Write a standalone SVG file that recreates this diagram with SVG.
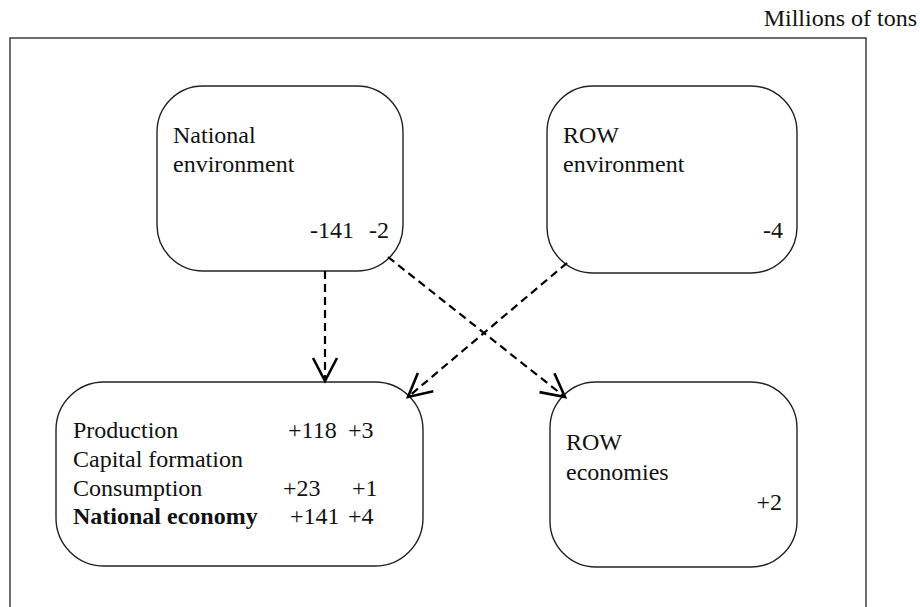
<svg xmlns="http://www.w3.org/2000/svg" width="920" height="607" viewBox="0 0 920 607">
  <style>
    .frame { fill: none; stroke: #222; stroke-width: 1.3; }
    .box { fill: #fff; stroke: #222; stroke-width: 1.4; }
    .t { font-family: "Liberation Serif", "Times New Roman", serif; font-size: 24px; fill: #111; }
    .b { font-weight: bold; }
    .flow { fill: none; stroke: #000; stroke-width: 2.2; stroke-dasharray: 8 5; }
  </style>
  <defs>
    <marker id="open-arrow" markerUnits="userSpaceOnUse" markerWidth="30" markerHeight="30" viewBox="-26 -15 30 30" refX="0" refY="0" orient="auto">
      <path d="M -23 -12 L 0 0 L -23 12" fill="none" stroke="#000" stroke-width="2.6"/>
    </marker>
  </defs>

  <rect width="920" height="607" fill="#fff"/>

  <text class="t" x="917" y="26" text-anchor="end">Millions of tons</text>

  <rect class="frame" x="10" y="38" width="856" height="600"/>

  <g id="national-environment">
    <rect class="box" x="157" y="86" width="246" height="185" rx="46" ry="46"/>
    <text class="t" x="173" y="143">National</text>
    <text class="t" x="173" y="172">environment</text>
    <text class="t" x="310" y="238">-141</text>
    <text class="t" x="369" y="238">-2</text>
  </g>

  <g id="row-environment">
    <rect class="box" x="547" y="86" width="250" height="187" rx="46" ry="46"/>
    <text class="t" x="563" y="143">ROW</text>
    <text class="t" x="563" y="172">environment</text>
    <text class="t" x="783" y="238" text-anchor="end">-4</text>
  </g>

  <g id="national-economy">
    <rect class="box" x="56" y="382" width="367" height="184" rx="48" ry="48"/>
    <text class="t" x="73" y="438">Production</text>
    <text class="t" x="288" y="438">+118</text>
    <text class="t" x="348" y="438">+3</text>
    <text class="t" x="73" y="467">Capital formation</text>
    <text class="t" x="73" y="496">Consumption</text>
    <text class="t" x="283" y="496">+23</text>
    <text class="t" x="352" y="496">+1</text>
    <text class="t b" x="73" y="524">National economy</text>
    <text class="t" x="290" y="524">+141</text>
    <text class="t" x="348" y="524">+4</text>
  </g>

  <g id="row-economies">
    <rect class="box" x="550" y="382" width="247" height="185" rx="46" ry="46"/>
    <text class="t" x="566" y="450">ROW</text>
    <text class="t" x="566" y="480">economies</text>
    <text class="t" x="782" y="510" text-anchor="end">+2</text>
  </g>

  <g id="connectors">
    <line class="flow" x1="325" y1="271" x2="325" y2="381" marker-end="url(#open-arrow)"/>
    <line class="flow" x1="388" y1="257" x2="565" y2="397" marker-end="url(#open-arrow)"/>
    <line class="flow" x1="567" y1="263" x2="408" y2="397" marker-end="url(#open-arrow)"/>
  </g>
</svg>
